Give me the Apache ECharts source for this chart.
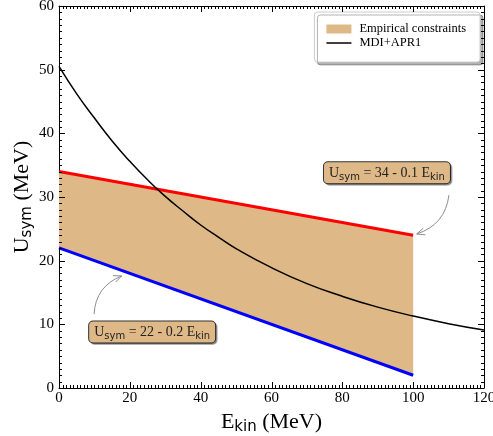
<!DOCTYPE html>
<html><head><meta charset="utf-8">
<script src="https://cdn.jsdelivr.net/npm/echarts@6/dist/echarts.min.js"></script>
<style>html,body{margin:0;padding:0;background:#fff}#c{width:493px;height:436px}</style>
</head><body><div id="c"></div>
<script>
// ---- data ----
const bandX = [0, 100];
const upperY = [34, 24];   // Usym = 34 - 0.1 Ekin
const lowerY = [22, 2];    // Usym = 22 - 0.2 Ekin
const curveX = [0, 5, 10, 15, 20, 25, 30, 35, 40, 45, 50, 60, 70, 80, 90, 100, 110, 120];
const curveY = [50.5, 46.2, 42.4, 38.8, 35.6, 32.7, 30.1, 27.8, 25.6, 23.7, 21.9, 18.9, 16.4, 14.4, 12.7, 11.3, 10.1, 9.1];
const xRange = [0, 120, 20];
const yRange = [0, 60, 10];
const xMinorStep = 1;
const yMinorStep = 1;
const legendNames = ['Empirical constraints', 'MDI+APR1'];
const annTexts = ['34 - 0.1', '22 - 0.2'];
const annAt = [[92.6, 33.8], [26.3, 8.8]];
const arrowFrom = [[110.1, 30.3], [9.9, 11.6]];
const arrowTo = [[101.0, 24.2], [17.7, 17.6]];

const SERIF = 'Liberation Serif';
const SANS = 'DejaVu Sans';
const TAN = '#deb887';

const pairs = (xs, ys) => xs.map((x, i) => [x, ys[i]]);

function axisBase(pos, showLabel) {
  return {
    type: 'value', position: pos,
    axisLine: { show: true, onZero: false, lineStyle: { color: '#000', width: 1 } },
    axisTick: { show: false },
    minorTick: { show: false },
    splitLine: { show: false },
    axisLabel: { show: showLabel, fontFamily: SERIF, fontSize: 15, color: '#000' }
  };
}
function xAxis(pos, showLabel) {
  const a = axisBase(pos, showLabel);
  a.min = xRange[0]; a.max = xRange[1]; a.interval = xRange[2];
  a.axisLabel.margin = 3;
  return a;
}
function yAxis(pos, showLabel) {
  const a = axisBase(pos, showLabel);
  a.min = yRange[0]; a.max = yRange[1]; a.interval = yRange[2];
  a.axisLabel.margin = 5;
  return a;
}
const titleRich = {
  m: { fontFamily: SERIF, fontSize: 22, color: '#000', lineHeight: 26 },
  s: { fontFamily: SANS, fontSize: 15, color: '#000', verticalAlign: 'bottom', lineHeight: 16 }
};
const xb = xAxis('bottom', true);
xb.name = '{m|E}{s|kin}{m| (MeV)}';
xb.nameLocation = 'middle'; xb.nameGap = 20;
xb.nameTextStyle = { rich: titleRich };
const yl = yAxis('left', true);
yl.name = '{m|U}{s|sym}{m| (MeV)}';
yl.nameLocation = 'middle'; yl.nameGap = 24; yl.nameMoveOverlap = false;
yl.nameTextStyle = { rich: titleRich };

const annRich = {
  m: { fontFamily: SERIF, fontSize: 14, fill: '#222', lineHeight: 18 },
  s: { fontFamily: SANS, fontSize: 10, fill: '#222', verticalAlign: 'bottom', lineHeight: 11 }
};

// inward frame ticks on all four sides, placed through the axis scales
function renderTicks(params, api) {
  const children = [];
  const add = (x1, y1, x2, y2) => children.push({ type: 'polyline',
    shape: { points: [[x1, y1], [x2, y2]] },
    style: { stroke: '#000', lineWidth: 1, fill: null } });
  const nx = Math.round((xRange[1] - xRange[0]) / xMinorStep);
  for (let i = 0; i <= nx; i++) {
    const v = xRange[0] + i * xMinorStep;
    const len = (i * xMinorStep) % xRange[2] === 0 ? 6 : 3;
    const b = api.coord([v, yRange[0]]);
    const t = api.coord([v, yRange[1]]);
    const x = Math.round(b[0]) + 0.5;
    add(x, b[1], x, b[1] - len);
    add(x, t[1], x, t[1] + len);
  }
  const ny = Math.round((yRange[1] - yRange[0]) / yMinorStep);
  for (let i = 0; i <= ny; i++) {
    const v = yRange[0] + i * yMinorStep;
    const len = (i * yMinorStep) % yRange[2] === 0 ? 6 : 3;
    const l = api.coord([xRange[0], v]);
    const r = api.coord([xRange[1], v]);
    const y = Math.round(l[1]) + 0.5;
    add(l[0], y, l[0] + len, y);
    add(r[0], y, r[0] - len, y);
  }
  return { type: 'group', children: children };
}

function renderBand(params, api) {
  const pts = [];
  for (let i = 0; i < bandX.length; i++) pts.push(api.coord([bandX[i], upperY[i]]));
  for (let i = bandX.length - 1; i >= 0; i--) pts.push(api.coord([bandX[i], lowerY[i]]));
  return { type: 'polygon', shape: { points: pts }, style: { fill: TAN, stroke: null } };
}

function renderAnn(params, api) {
  const children = [];
  for (let k = 0; k < annTexts.length; k++) {
    const p0 = api.coord(arrowFrom[k]);
    const p1 = api.coord(arrowTo[k]);
    const dx = p1[0] - p0[0], dy = p1[1] - p0[1];
    const cp = [(p0[0] + p1[0]) / 2 + 0.32 * dy, (p0[1] + p1[1]) / 2 - 0.32 * dx];
    children.push({ type: 'bezierCurve',
      shape: { x1: p0[0], y1: p0[1], x2: p1[0], y2: p1[1], cpx1: cp[0], cpy1: cp[1] },
      style: { stroke: '#8c8c8c', lineWidth: 1, fill: null } });
    const ex = p1[0] - cp[0], ey = p1[1] - cp[1];
    const L = Math.hypot(ex, ey);
    const ux = ex / L, uy = ey / L;
    const hl = 8, hw = 3.5;
    children.push({ type: 'polyline',
      shape: { points: [
        [p1[0] - hl * ux + hw * uy, p1[1] - hl * uy - hw * ux],
        [p1[0], p1[1]],
        [p1[0] - hl * ux - hw * uy, p1[1] - hl * uy + hw * ux]] },
      style: { stroke: '#8c8c8c', lineWidth: 1, fill: null } });
    const c = api.coord(annAt[k]);
    children.push({ type: 'text', x: c[0], y: c[1],
      style: {
        text: '{m|U}{s|sym}{m| = ' + annTexts[k] + ' E}{s|kin}',
        rich: annRich, align: 'center', verticalAlign: 'middle',
        backgroundColor: TAN, borderColor: '#333', borderWidth: 1, borderRadius: 4,
        padding: [2, 5, 1, 5],
        shadowColor: 'rgba(0,0,0,0.3)', shadowOffsetX: 1.5, shadowOffsetY: 1.5, shadowBlur: 0
      } });
  }
  return { type: 'group', children: children };
}

const chart = echarts.init(document.getElementById('c'), null, { renderer: 'canvas' });
chart.setOption({
  animation: false,
  backgroundColor: '#fff',
  grid: { left: 59, right: 9, top: 6, bottom: 48, containLabel: false, outerBoundsMode: 'none' },
  xAxis: [xb, xAxis('top', false)],
  yAxis: [yl, yAxis('right', false)],
  legend: {
    orient: 'vertical', right: 13, top: 12,
    data: [{ name: legendNames[0], icon: 'rect' },
           { name: legendNames[1], icon: 'path://M0 0H25V1.5H0Z' }],
    itemWidth: 25, itemHeight: 9, itemGap: 0,
    padding: [10, 14, 12, 12],
    textStyle: { fontFamily: SERIF, fontSize: 12.5, color: '#000', lineHeight: 14, padding: [0, 0, 0, 3] },
    backgroundColor: '#fff', borderColor: '#ccc', borderWidth: 1, borderRadius: 3,
    shadowColor: 'rgba(0,0,0,0.3)', shadowOffsetX: 3, shadowOffsetY: 3, shadowBlur: 0
  },
  series: [
    { name: legendNames[0], type: 'custom', data: [0], renderItem: renderBand,
      itemStyle: { color: TAN }, z: 1, silent: true, clip: false },
    { name: 'upper', type: 'line', data: pairs(bandX, upperY), symbol: 'none',
      lineStyle: { color: '#ff0000', width: 3 }, z: 3, silent: true },
    { name: 'lower', type: 'line', data: pairs(bandX, lowerY), symbol: 'none',
      lineStyle: { color: '#0000ff', width: 3 }, z: 3, silent: true },
    { name: legendNames[1], type: 'line', data: pairs(curveX, curveY), symbol: 'none', showSymbol: false,
      smooth: 0.5, lineStyle: { color: '#000', width: 1.5 }, itemStyle: { color: '#000' }, z: 4, silent: true },
    { name: 'annotations', type: 'custom', data: [0], renderItem: renderAnn, z: 5, silent: true, clip: false },
    { name: 'frameTicks', type: 'custom', data: [0], renderItem: renderTicks, z: 6, silent: true, clip: false }
  ]
});
</script></body></html>
